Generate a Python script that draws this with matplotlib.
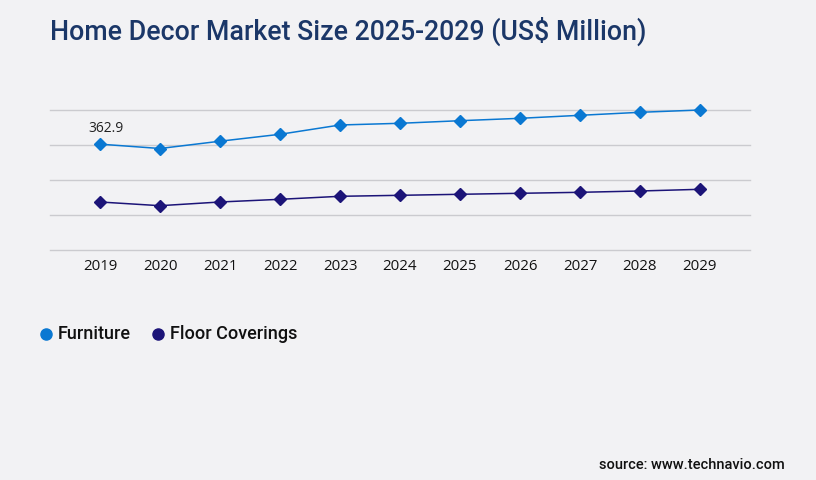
import matplotlib
matplotlib.use("Agg")
import matplotlib.pyplot as plt

years = ["2019", "2020", "2021", "2022", "2023", "2024", "2025", "2026", "2027", "2028", "2029"]
furniture = [362.9, 348.0, 373.0, 396.7, 428.6, 434.4, 443.3, 451.5, 461.8, 472.1, 480.0]
floor_coverings = [164.6, 151.9, 164.6, 173.8, 184.1, 187.5, 191.0, 194.4, 197.8, 202.3, 208.1]
series_names = ["Furniture", "Floor Coverings"]
series_colors = ["#0a78d2", "#1c1478"]
grid_ticks = [0, 120, 240, 360, 480]

W, H = 816, 480
fig = plt.figure(figsize=(W / 100, H / 100), dpi=100)
bg = "#f2f2f4"
fig.patch.set_facecolor(bg)

ax = fig.add_axes([50 / W, 1 - 250 / H, 700 / W, 140 / H])
ax.set_facecolor(bg)
x = list(range(len(years)))
for vals, name, col in zip([furniture, floor_coverings], series_names, series_colors):
    ax.plot(x, vals, color=col, lw=1.1, marker="D", markersize=6, clip_on=False, zorder=3, label=name)

ax.set_xlim(-5 / 6, len(years) - 1 + 5 / 6)
ax.set_ylim(grid_ticks[0], grid_ticks[-1])
ax.set_yticks(grid_ticks)
ax.yaxis.grid(True, color="#cbcbcf", lw=1.0)
for gl in ax.get_ygridlines():
    gl.set_clip_on(False)
ax.set_axisbelow(True)
ax.tick_params(axis="y", left=False, labelleft=False)
ax.set_xticks(x)
ax.set_xticklabels(years, fontsize=10.8, family="Open Sans", color="#111111")
ax.tick_params(axis="x", length=0, pad=6.5)
for s in ax.spines.values():
    s.set_visible(False)

ax.annotate(f"{furniture[0]:.1f}", (x[0], furniture[0]), xytext=(4, 11.5), textcoords="offset points",
            ha="center", va="center", fontsize=10, family="Open Sans", color="#222222")

fig.text(50 / W, 1 - 31 / H, "Home Decor Market Size 2025-2029 (US$ Million)", fontsize=19.3,
         family="Roboto", fontweight="medium", color="#1b3768", va="center", ha="left")

# legend
leg_y = 1 - 334 / H
for mx, tx, name, col in [(46, 58, series_names[0], series_colors[0]), (158, 170, series_names[1], series_colors[1])]:
    fig.lines.append(plt.Line2D([mx / W], [leg_y], marker="o", markersize=8, color=col, transform=fig.transFigure))
    fig.text(tx / W, leg_y, name, fontsize=13, family="Roboto", fontweight="medium", color="#111111",
             va="center", ha="left")

fig.text(785 / W, 1 - 465 / H, "source: www.technavio.com", fontsize=10.5, family="Roboto", fontweight="medium",
         color="#111111", va="center", ha="right")

fig.savefig("out.png", dpi=100, facecolor=bg)
